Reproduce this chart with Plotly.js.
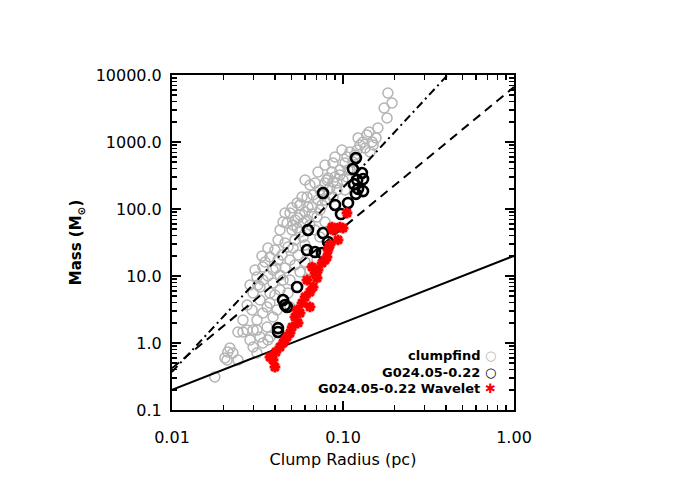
<!DOCTYPE html>
<html>
<head>
<meta charset="utf-8">
<script src="https://cdn.plot.ly/plotly-3.0.1.min.js"></script>
<style>html,body{margin:0;padding:0;background:#fff;}#plot{width:687px;height:491px;}</style>
</head>
<body>
<div id="plot"></div>
<script>
// clumpfind (grey open circles)
var cfR = [0.183,0.1935,0.174,0.181,0.142,0.138,0.148,0.131,0.150,0.1346,0.121,0.144,0.1175,0.110,0.0874,0.1027,0.096,0.0898,0.1055,0.0922,
  0.0862,0.096,0.0817,0.0785,0.0874,0.100,0.0733,0.0839,0.0668,0.0764,0.0922,0.0616,
  0.1055,0.0576,0.0874,0.0659,0.060,0.0733,0.0524,0.0471,0.0584,0.0504,0.0705,
  0.110,0.0806,0.0539,0.0624,0.049,0.0446,0.0546,0.051,0.0584,0.0733,0.0458,0.051,0.040,0.0374,0.0417,0.049,0.034,0.039,0.0306,0.0314,0.034,0.039,0.0446,0.0327,0.0374,0.0428,0.0298,0.0327,0.0374,0.0294,0.034,0.039,0.0314,0.036,0.0298,0.0327,0.0364,0.0298,0.034,0.0314,0.0477,0.049,0.0705,0.0641,
  0.036,0.0411,0.0374,0.0243,0.0275,0.026,0.0314,0.0286,0.0218,0.0227,0.0204,0.0212,0.0243,0.0178,0.021,
  0.0561,0.0641,0.060,0.0546,0.0458,0.0524,0.0428,0.0785,0.0686,0.1027,0.1143,0.1257,
  0.035,0.0364,0.0405,0.044,0.0477,0.0524,0.0561,0.0539,0.0616,0.0659,0.0561,0.0504,0.0458,0.0428,0.0417,0.0364,0.0336,0.0318,0.0286,0.0275,0.026,0.040,
  0.0714,0.0641,0.060,0.0714,0.0785,0.0898,0.0986,0.1225,0.160,0.156,0.107,0.0817,0.0754,0.0686,0.0785,0.049,0.0561,0.060];
var cfM = [5390,3820,3220,2280,1410,1270,1000,1000,902,813,760,709,640,709,486,486,382,300,300,244,
  357,322,290,244,253,271,192,206,162,162,192,151,
  597,151,151,107,90,96.6,68.5,61.8,61.8,48.6,76,
  382,271,123,107,87.1,63.9,73.4,57.7,38.2,38.2,31.1,26.2,24.4,19.2,17.3,17.3,13.6,12.3,12.3,9.66,8.71,7.87,8.71,6.85,5.57,6.18,5.57,4.38,3.95,3.11,2.80,2.44,2.20,1.73,1.56,1.23,1.11,0.871,1.0,0.709,5.57,3.45,17.3,12.3,
  3.45,3.11,1.23,1.46,1.56,1.46,1.56,1.11,0.842,0.709,0.597,0.734,0.557,0.311,0.557,
  81.3,57.7,29.0,20.6,13.2,14.6,10.3,136,244,192,503,902,
  16.2,10.0,13.2,20.6,27.1,34.5,45.4,52.0,68.5,84.2,115,104,87.1,48.6,34.5,26.2,19.9,7.34,7.34,3.69,2.20,5.2,
  136,228,271,357,454,597,760,1150,1620,1150,382,192,115,48.6,63.9,8.71,11.5,16.2];

// G024.05-0.22 (black open circles)
var gR = [0.119,0.1143,0.129,0.121,0.131,0.116,0.1225,0.131,0.119,0.0764,0.0898,0.107,0.0973,0.0624,0.0764,0.0817,0.0616,0.0686,0.0754,0.0539,0.0446,0.0458,0.0471,0.0417,0.0417];
var gM = [577,395,345,271,280,235,200,185,168,173,115,123,84,48.6,43.8,32.2,24.4,22.8,22.0,6.85,4.38,3.69,3.45,1.67,1.46];

// G024.05-0.22 Wavelet (red asterisks)
var wR = [0.039,0.040,0.0374,0.0428,0.0458,0.0446,0.0471,0.049,0.0504,0.0524,0.0546,0.0539,0.0576,0.060,0.0641,0.0641,0.0668,0.0616,0.0705,0.0714,0.0659,0.0686,0.0754,0.0785,0.0806,0.0817,0.0839,0.0874,0.0862,0.096,0.100,0.0935,0.1055,0.0561,0.0405];
var wM = [0.557,0.438,0.618,0.871,1.11,1.0,1.23,1.41,1.73,2.44,1.99,3.11,3.95,4.86,5.77,3.45,6.85,8.71,9.34,12.3,13.6,11.1,15.6,17.3,19.2,24.4,29.0,48.6,53.8,53.8,52.0,34.5,87.1,2.80,0.734];

// reference lines (end points)
var lineR = [0.01, 1.0];
var solidM = [0.2, 20];
var dashedM = [0.42, 6600];
var dashdotM = [0.37, 117000];

var xTickVals = [0.01, 0.1, 1];
var xTickText = ['0.01', '0.10', '1.00'];
var yTickVals = [0.1, 1, 10, 100, 1000, 10000];
var yTickText = ['0.1', '1.0', '10.0', '100.0', '1000.0', '10000.0'];

var legendNames = ['clumpfind', 'G024.05-0.22', 'G024.05-0.22 Wavelet'];

function minorVals(lo, hi) {
  var v = [];
  for (var d = lo; d < hi; d++) {
    for (var k = 2; k <= 9; k++) v.push(k * Math.pow(10, d));
  }
  return v;
}

var FONT = 'DejaVu Sans, Arial, sans-serif';

var traces = [
  {x: cfR, y: cfM, mode: 'markers', type: 'scatter', name: legendNames[0],
   marker: {symbol: 'circle-open', size: 10, color: '#b4b4b4', line: {width: 1.5, color: '#b4b4b4'}}},
  {x: lineR, y: solidM, mode: 'lines', type: 'scatter', line: {color: '#000', width: 2}},
  {x: lineR, y: dashedM, mode: 'lines', type: 'scatter', line: {color: '#000', width: 2, dash: '9px,6px'}},
  {x: lineR, y: dashdotM, mode: 'lines', type: 'scatter', line: {color: '#000', width: 2, dash: '8px,4px,2px,4px'}},
  {x: gR, y: gM, mode: 'markers', type: 'scatter', name: legendNames[1],
   marker: {symbol: 'circle-open', size: 10, color: '#000', line: {width: 2.6, color: '#000'}}},
  {x: wR, y: wM, mode: 'markers', type: 'scatter', name: legendNames[2],
   marker: {symbol: 'asterisk-open', size: 9, color: '#ff0000', line: {width: 3, color: '#ff0000'}}}
];

var axisCommon = {
  type: 'log', showgrid: false, zeroline: false,
  showline: true, linewidth: 2, linecolor: '#000', mirror: 'ticks',
  ticks: 'inside', ticklen: 9, tickwidth: 1.5, tickcolor: '#000',
  tickfont: {family: FONT, size: 16, color: '#000'}
};

var layout = {
  width: 687, height: 491,
  margin: {l: 172, r: 173, t: 75, b: 81, pad: 0},
  paper_bgcolor: '#fff', plot_bgcolor: '#fff',
  showlegend: false,
  font: {family: FONT, color: '#000'},
  xaxis: Object.assign({}, axisCommon, {
    range: [-2, 0], tickmode: 'array', tickvals: xTickVals, ticktext: xTickText,
    ticklabelstandoff: 12,
    minor: {tickmode: 'array', tickvals: minorVals(-2, 0), ticks: 'inside', ticklen: 5, tickwidth: 1.5, tickcolor: '#000'},
    title: {text: 'Clump Radius (pc)', font: {family: FONT, size: 16, color: '#000'}, standoff: 8}
  }),
  yaxis: Object.assign({}, axisCommon, {
    range: [-1, 4], tickmode: 'array', tickvals: yTickVals, ticktext: yTickText,
    ticklabelstandoff: 5,
    minor: {tickmode: 'array', tickvals: minorVals(-1, 4), ticks: 'inside', ticklen: 5, tickwidth: 1.5, tickcolor: '#000'},
    title: {text: '<b>Mass (M<sub>⊙</sub>)</b>', font: {family: FONT, size: 15, color: '#000'}, standoff: 10}
  }),
  annotations: [
    {xref: 'paper', yref: 'paper', x: 0.905, y: 0.164, xanchor: 'right', yanchor: 'middle', showarrow: false,
     text: '<b>' + legendNames[0] + '</b>', font: {family: FONT, size: 13, color: '#000'}},
    {xref: 'paper', yref: 'paper', x: 0.905, y: 0.113, xanchor: 'right', yanchor: 'middle', showarrow: false,
     text: '<b>' + legendNames[1] + '</b>', font: {family: FONT, size: 13, color: '#000'}},
    {xref: 'paper', yref: 'paper', x: 0.905, y: 0.063, xanchor: 'right', yanchor: 'middle', showarrow: false,
     text: '<b>' + legendNames[2] + '</b>', font: {family: FONT, size: 13, color: '#000'}},
    {xref: 'paper', yref: 'paper', x: 0.930, y: 0.164, xanchor: 'center', yanchor: 'middle', showarrow: false,
     text: '<b>○</b>', font: {family: FONT, size: 13, color: '#b4b4b4'}},
    {xref: 'paper', yref: 'paper', x: 0.930, y: 0.113, xanchor: 'center', yanchor: 'middle', showarrow: false,
     text: '<b>○</b>', font: {family: FONT, size: 13, color: '#000'}},
    {xref: 'paper', yref: 'paper', x: 0.930, y: 0.063, xanchor: 'center', yanchor: 'middle', showarrow: false,
     text: '<b>✱</b>', font: {family: FONT, size: 13, color: '#ff0000'}}
  ]
};

Plotly.newPlot('plot', traces, layout, {staticPlot: true, displayModeBar: false});
</script>
</body>
</html>
